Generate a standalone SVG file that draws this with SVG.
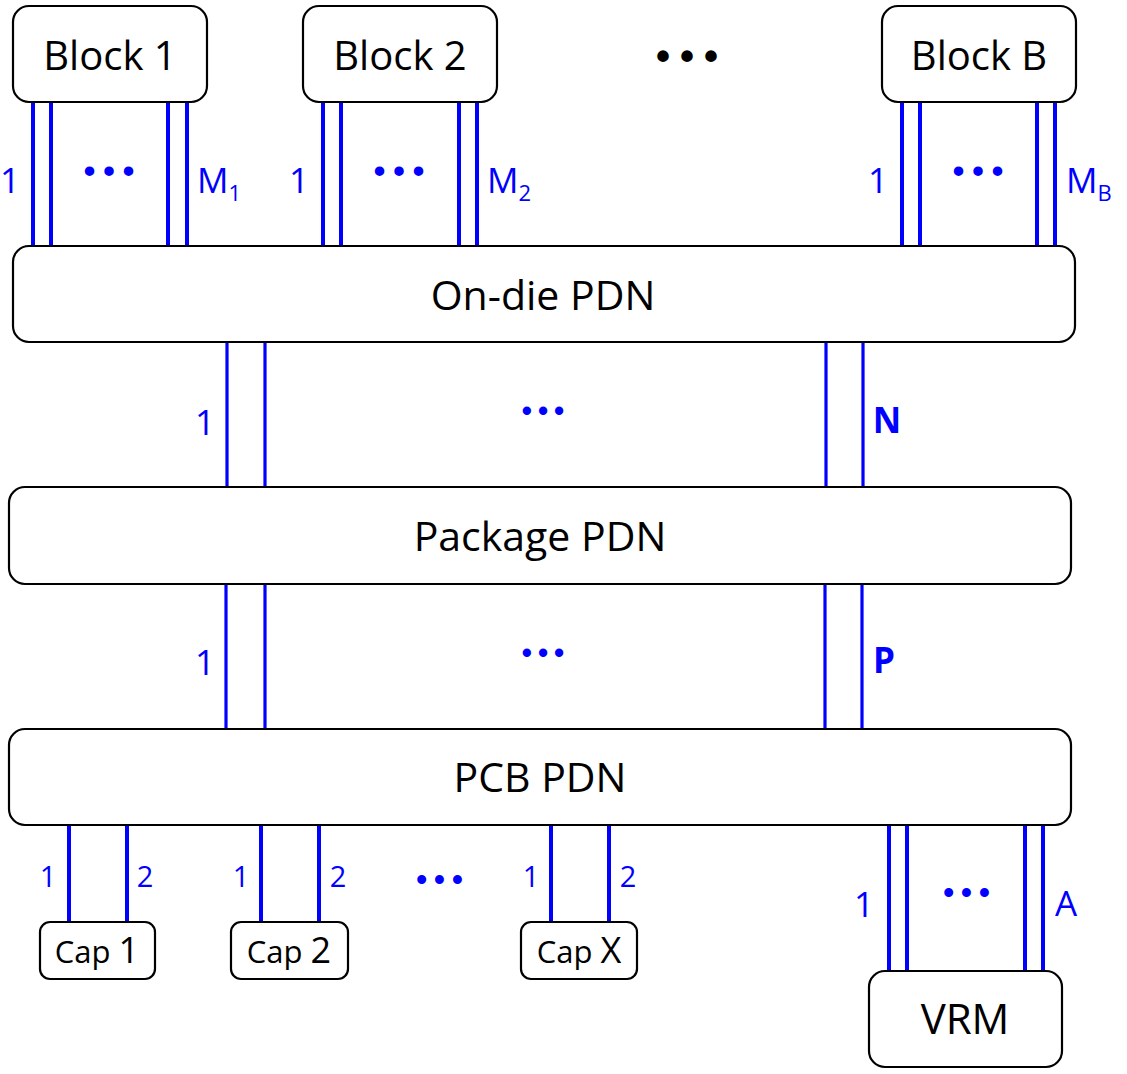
<svg xmlns="http://www.w3.org/2000/svg" width="1127" height="1074" viewBox="0 0 1127 1074">
<style>
.box{fill:#fff;stroke:#000;stroke-width:2.2}
.t{font-family:"Open Sans","Liberation Sans",sans-serif;fill:#000;text-anchor:middle}
.w{stroke:#0000ff;stroke-width:4;fill:none}
.w3{stroke:#0000ff;stroke-width:3.2;fill:none}
.l{font-family:"Open Sans","Liberation Sans",sans-serif;fill:#0000ff;font-size:35px;text-anchor:middle}
.m{font-family:"Open Sans","Liberation Sans",sans-serif;fill:#0000ff;font-size:35px;text-anchor:start}
.s{font-size:29px}
.d{font-family:"Liberation Sans",sans-serif;font-weight:bold;text-anchor:middle}
</style>
<rect width="1127" height="1074" fill="#fff"/>
<g id="connectors">
<path class="w" d="M33 102V246M51 102V246M168 102V246M187 102V246"/>
<path class="w" d="M323 102V246M341 102V246M459 102V246M477 102V246"/>
<path class="w" d="M902 102V246M920 102V246M1037 102V246M1055 102V246"/>
<path class="w3" d="M227 342V487M265 342V487M826 342V487M863 342V487"/>
<path class="w3" d="M226 584V729M265 584V729M825 584V729M862 584V729"/>
<path class="w" d="M69 825V922M127 825V922M261 825V922M319 825V922M551 825V922M609 825V922"/>
<path class="w" d="M889 825V971M907 825V971M1025 825V971M1043 825V971"/>
</g>
<g id="labels">
<text class="l" x="10" y="193">1</text>
<text class="l" x="299" y="193">1</text>
<text class="l" x="878" y="193">1</text>
<text class="m" x="197" y="193">M<tspan font-size="22" dy="8">1</tspan></text>
<text class="m" x="487" y="193">M<tspan font-size="22" dy="8">2</tspan></text>
<text class="m" x="1066" y="193">M<tspan font-size="22" dy="8">B</tspan></text>
<text class="l" x="205" y="435">1</text>
<text class="l" x="205" y="675">1</text>
<text class="l" x="887" y="433" font-weight="bold" font-size="33">N</text>
<text class="l" x="884" y="673" font-weight="bold" font-size="33">P</text>
<text class="l s" x="48" y="887">1</text>
<text class="l s" x="145" y="887">2</text>
<text class="l s" x="241" y="887">1</text>
<text class="l s" x="338" y="887">2</text>
<text class="l s" x="531" y="887">1</text>
<text class="l s" x="628" y="887">2</text>
<text class="l" x="864" y="917">1</text>
<text class="l" x="1066" y="916">A</text>
<text class="d" x="692" y="70" font-size="40" letter-spacing="10" fill="#000">•••</text>
<text class="d" x="113" y="182" font-size="33" letter-spacing="8" fill="#0000ff">•••</text>
<text class="d" x="403" y="182" font-size="33" letter-spacing="8" fill="#0000ff">•••</text>
<text class="d" x="982" y="182" font-size="33" letter-spacing="8" fill="#0000ff">•••</text>
<text class="d" x="546" y="421" font-size="29" letter-spacing="6" fill="#0000ff">•••</text>
<text class="d" x="546" y="663" font-size="29" letter-spacing="6" fill="#0000ff">•••</text>
<text class="d" x="443" y="890" font-size="31" letter-spacing="7" fill="#0000ff">•••</text>
<text class="d" x="970" y="903" font-size="31" letter-spacing="7" fill="#0000ff">•••</text>
</g>
<g id="block1"><rect class="box" x="13" y="6" width="194" height="96" rx="16"/><text class="t" x="110" y="70" font-size="40">Block 1</text></g>
<g id="block2"><rect class="box" x="303" y="6" width="194" height="96" rx="16"/><text class="t" x="400" y="70" font-size="40">Block 2</text></g>
<g id="blockB"><rect class="box" x="882" y="6" width="194" height="96" rx="16"/><text class="t" x="979" y="70" font-size="40">Block B</text></g>
<g id="ondie"><rect class="box" x="13" y="246" width="1062" height="96" rx="16"/><text class="t" x="543" y="310" font-size="41">On-die PDN</text></g>
<g id="package"><rect class="box" x="9" y="487" width="1062" height="97" rx="16"/><text class="t" x="540" y="551" font-size="41">Package PDN</text></g>
<g id="pcb"><rect class="box" x="9" y="729" width="1062" height="96" rx="16"/><text class="t" x="540" y="792" font-size="41">PCB PDN</text></g>
<g id="cap1"><rect class="box" x="40" y="922" width="115" height="57" rx="10"/><text class="t" x="97" y="963" font-size="31">Cap <tspan font-size="36">1</tspan></text></g>
<g id="cap2"><rect class="box" x="231" y="922" width="117" height="57" rx="10"/><text class="t" x="289" y="963" font-size="31">Cap <tspan font-size="36">2</tspan></text></g>
<g id="capX"><rect class="box" x="521" y="922" width="116" height="57" rx="10"/><text class="t" x="579" y="963" font-size="31">Cap <tspan font-size="36">X</tspan></text></g>
<g id="vrm"><rect class="box" x="869" y="971" width="193" height="96" rx="16"/><text class="t" x="965" y="1034" font-size="42">VRM</text></g>
</svg>
